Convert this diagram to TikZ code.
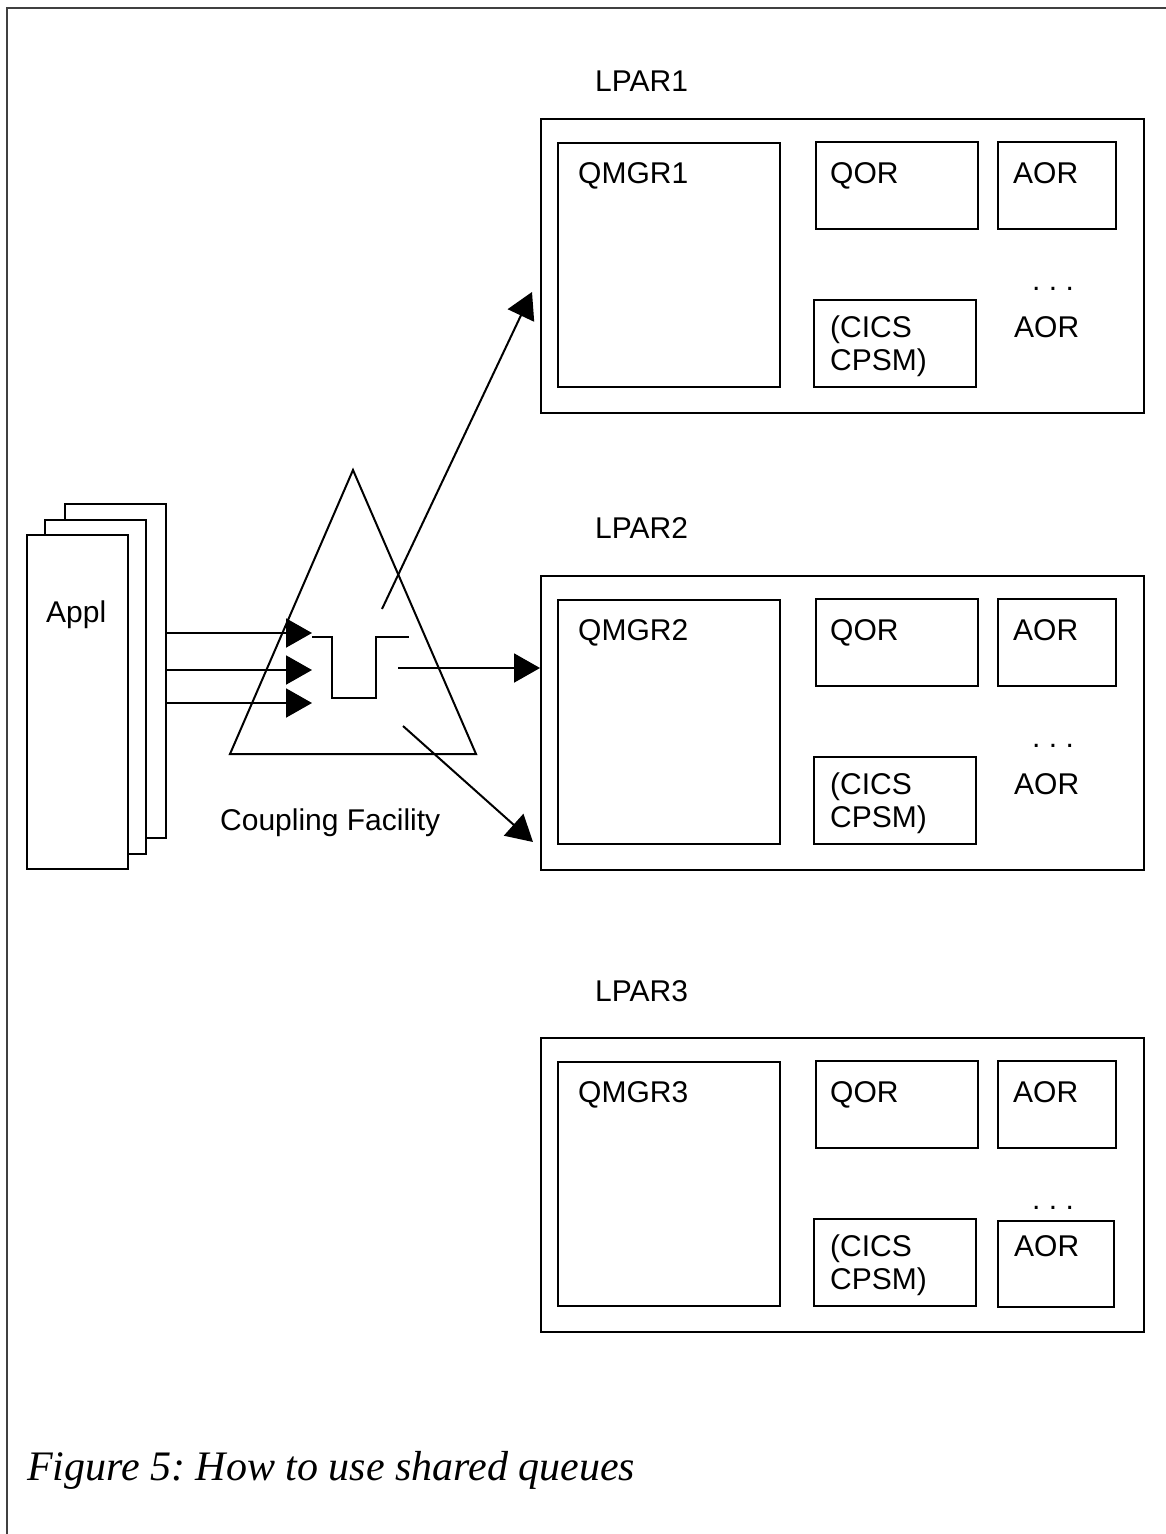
\documentclass[tikz,border=0pt]{standalone}
\usepackage{fontspec}
\setmainfont{Liberation Sans}
\newfontfamily\capfont{Liberation Serif}
\usetikzlibrary{arrows.meta,positioning,calc}
\frenchspacing

\begin{document}
\begin{tikzpicture}[
  x=1pt, y=-1pt,
  box/.style={draw, line width=2pt, anchor=north west, inner sep=0pt},
  lbl/.style={anchor=base west, inner sep=0pt, font=\fontsize{30}{33}\selectfont},
  arrow/.style={-{Triangle[length=26pt,width=29pt]}, line width=2pt},
  frame/.style={draw=black!75, line width=2.5pt}
]
\useasboundingbox (0,0) rectangle (1166,1534);
\draw[frame] (7,1534) -- (7,8) -- (1166,8);

% the three LPARs
\foreach \n/\t/\l in {1/118/91, 2/575/538, 3/1037/1001} {
  \node[lbl] (title\n) at (595,\l) {LPAR\n};
  \node[box, minimum width=603pt, minimum height=294pt] (lpar\n) at (540,\t) {};
  \node[box, minimum width=222pt, minimum height=244pt] (qmgr\n) at (557,\t+24) {};
  \node[box, minimum width=162pt, minimum height=87pt] (qor\n) at (815,\t+23) {};
  \node[box, minimum width=118pt, minimum height=87pt] (aor\n) at (997,\t+23) {};
  \node[box, minimum width=162pt, minimum height=87pt] (cics\n) at (813,\t+181) {};
  \node[lbl] (qmgrtxt\n) at (578,\t+65) {QMGR\n};
  \node[lbl] (qortxt\n) at (830,\t+65) {QOR};
  \node[lbl] (aortxt\n) at (1013,\t+65) {AOR};
  \node[lbl] (dots\n) at (1032,\t+172) {. . .};
  \node[lbl, anchor=north west, align=left] (cicstxt\n) at (830,\t+198) {(CICS\\CPSM)};
  \node[lbl] (aorlast\n) at (1014,\t+219) {AOR};
}
\node[box, minimum width=116pt, minimum height=86pt] (aorbox3) at (997,1220) {};

% application stack
\node[box, fill=white, minimum width=101pt, minimum height=334pt] (appl3) at (64,503) {};
\node[box, fill=white, minimum width=101pt, minimum height=334pt] (appl2) at (44,519) {};
\node[box, fill=white, minimum width=101pt, minimum height=334pt] (appl1) at (26,534) {};
\node[lbl] (appltxt) at (46,622) {Appl};

% coupling facility with the shared queue
\coordinate (apex) at (353,470);
\coordinate (bl) at (230,754);
\coordinate (br) at (476,754);
\draw[line width=2pt] (apex) -- (br) -- (bl) -- cycle;
\draw[line width=2pt] (312,637) -- (332,637) -- (332,698) -- (376,698) -- (376,637) -- (409,637);
\node[lbl] (cf) at (220,830) {Coupling Facility};

\coordinate (in1) at (312,633);
\coordinate (in2) at (312,670);
\coordinate (in3) at (312,703);
\foreach \i in {1,2,3}
  \draw[arrow] (appl3.east |- in\i) -- (in\i);

\coordinate (out1) at (382,609);
\coordinate (tip1) at (532,292);
\coordinate (out2) at (398,668);
\coordinate (out3) at (403,726);
\coordinate (tip3) at (533,842);
\draw[arrow] (out1) -- (tip1);
\draw[arrow] (out2) -- (lpar2.west |- out2);
\draw[arrow] (out3) -- (tip3);

\node[anchor=base west, inner sep=0pt, font=\capfont\itshape\fontsize{42}{46}\selectfont] (caption) at (27,1480) {Figure 5: How to use shared queues};
\end{tikzpicture}
\end{document}
